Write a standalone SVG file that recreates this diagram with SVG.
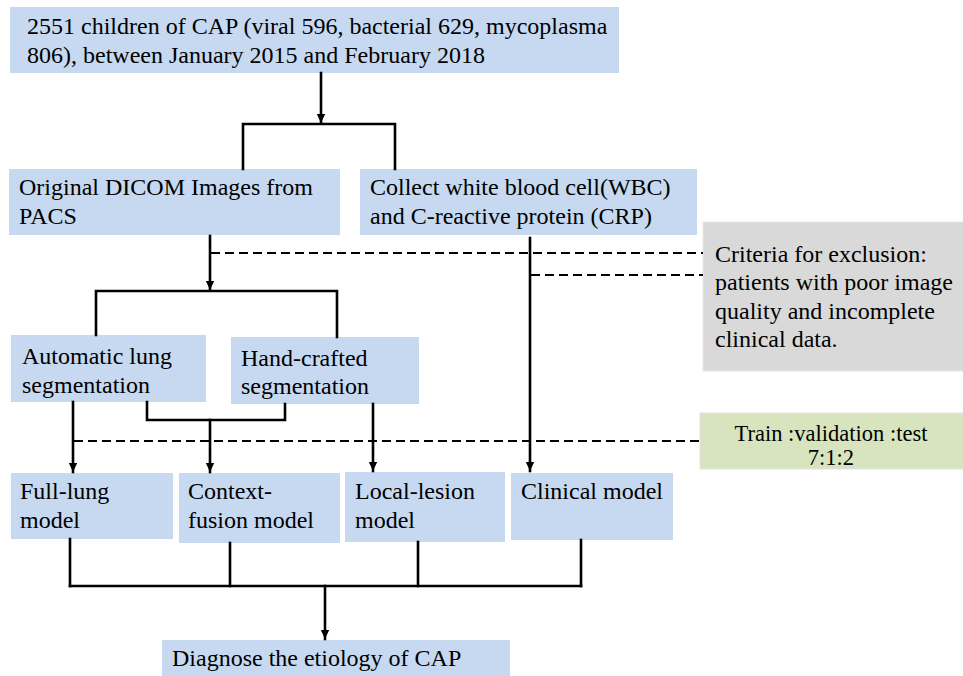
<svg xmlns="http://www.w3.org/2000/svg" width="963" height="676" viewBox="0 0 963 676">
<defs>
<marker id="ah" markerUnits="userSpaceOnUse" markerWidth="9" markerHeight="10" refX="9" refY="5" orient="auto">
<path d="M0,0.8 L9,5 L0,9.2 z" fill="#000"/>
</marker>
</defs>

<g id="n-top"><rect fill="#c6d9f0" x="10" y="7" width="609" height="66"/>
<text style="font-family:'Liberation Serif',serif;font-size:24px" x="27" y="34">2551 children of CAP (viral 596, bacterial 629, mycoplasma</text>
<text style="font-family:'Liberation Serif',serif;font-size:24px" x="27" y="63">806), between January 2015 and February 2018</text></g>

<g id="n-dicom"><rect fill="#c6d9f0" x="9" y="169" width="331" height="66"/>
<text style="font-family:'Liberation Serif',serif;font-size:24px" x="19" y="195">Original DICOM Images from</text>
<text style="font-family:'Liberation Serif',serif;font-size:24px" x="19" y="224">PACS</text></g>

<g id="n-collect"><rect fill="#c6d9f0" x="360" y="169" width="337" height="66"/>
<text style="font-family:'Liberation Serif',serif;font-size:24px" x="370" y="195">Collect white blood cell(WBC)</text>
<text style="font-family:'Liberation Serif',serif;font-size:24px" x="370" y="224">and C-reactive protein (CRP)</text></g>

<g id="n-exclusion"><rect fill="#d9d9d9" stroke="#e8e8e8" stroke-width="1" x="703" y="222" width="262" height="149"/>
<text style="font-family:'Liberation Serif',serif;font-size:24px" x="715" y="262">Criteria for exclusion:</text>
<text style="font-family:'Liberation Serif',serif;font-size:24px" x="715" y="290">patients with poor image</text>
<text style="font-family:'Liberation Serif',serif;font-size:24px" x="715" y="319">quality and incomplete</text>
<text style="font-family:'Liberation Serif',serif;font-size:24px" x="715" y="347">clinical data.</text></g>

<g id="n-auto"><rect fill="#c6d9f0" x="11" y="335" width="195" height="67"/>
<text style="font-family:'Liberation Serif',serif;font-size:24px" x="22" y="364">Automatic lung</text>
<text style="font-family:'Liberation Serif',serif;font-size:24px" x="22" y="393">segmentation</text></g>

<g id="n-hand"><rect fill="#c6d9f0" x="231" y="337" width="188" height="67"/>
<text style="font-family:'Liberation Serif',serif;font-size:24px" x="241" y="366">Hand-crafted</text>
<text style="font-family:'Liberation Serif',serif;font-size:24px" x="241" y="394">segmentation</text></g>

<g id="n-split"><rect fill="#d7e4bd" stroke="#e3e3e3" stroke-width="1" x="700" y="413" width="265" height="56"/>
<text style="font-family:'Liberation Serif',serif;font-size:22.5px" x="831" y="441" text-anchor="middle">Train :validation :test</text>
<text style="font-family:'Liberation Serif',serif;font-size:22.5px" x="831" y="465" text-anchor="middle">7:1:2</text></g>

<g id="n-full"><rect fill="#c6d9f0" x="11" y="473" width="162" height="66"/>
<text style="font-family:'Liberation Serif',serif;font-size:24px" x="20" y="499">Full-lung</text>
<text style="font-family:'Liberation Serif',serif;font-size:24px" x="20" y="528">model</text></g>

<g id="n-context"><rect fill="#c6d9f0" x="179" y="473" width="161" height="70"/>
<text style="font-family:'Liberation Serif',serif;font-size:24px" x="188" y="499">Context-</text>
<text style="font-family:'Liberation Serif',serif;font-size:24px" x="188" y="528">fusion model</text></g>

<g id="n-local"><rect fill="#c6d9f0" x="345" y="472" width="160" height="70"/>
<text style="font-family:'Liberation Serif',serif;font-size:24px" x="355" y="499">Local-lesion</text>
<text style="font-family:'Liberation Serif',serif;font-size:24px" x="355" y="528">model</text></g>

<g id="n-clinical"><rect fill="#c6d9f0" x="511" y="473" width="162" height="67"/>
<text style="font-family:'Liberation Serif',serif;font-size:24px" x="521" y="499">Clinical model</text></g>

<g id="n-diagnose"><rect fill="#c6d9f0" x="162" y="640" width="348" height="36"/>
<text style="font-family:'Liberation Serif',serif;font-size:24px" x="172" y="666">Diagnose the etiology of CAP</text></g>

<g id="connectors" fill="none" stroke="#000" stroke-width="2.6" stroke-linecap="square">
<line marker-end="url(#ah)" x1="321" y1="73" x2="321" y2="123"/>
<polyline points="243,169 243,124 395,124 395,169"/>
<line marker-end="url(#ah)" x1="210" y1="236" x2="210" y2="290"/>
<polyline points="96,335 96,291 337,291 337,337"/>
<line marker-end="url(#ah)" x1="530" y1="238" x2="530" y2="471"/>
<g stroke-width="2" stroke-dasharray="9 5" stroke-linecap="butt">
<line x1="211" y1="253" x2="703" y2="253"/>
<line x1="531" y1="275" x2="703" y2="275"/>
<line x1="74" y1="441" x2="700" y2="441"/>
</g>
<polyline points="147,402 147,420 285,420 285,404"/>
<line marker-end="url(#ah)" x1="73" y1="402" x2="73" y2="472"/>
<line marker-end="url(#ah)" x1="210" y1="420" x2="210" y2="472"/>
<line marker-end="url(#ah)" x1="373" y1="404" x2="373" y2="471"/>
<line x1="70" y1="539" x2="70" y2="586"/>
<line x1="230" y1="543" x2="230" y2="586"/>
<line x1="418" y1="542" x2="418" y2="586"/>
<line x1="581" y1="540" x2="581" y2="586"/>
<line x1="70" y1="586" x2="581" y2="586"/>
<line marker-end="url(#ah)" x1="325" y1="586" x2="325" y2="639"/>
</g>
</svg>
